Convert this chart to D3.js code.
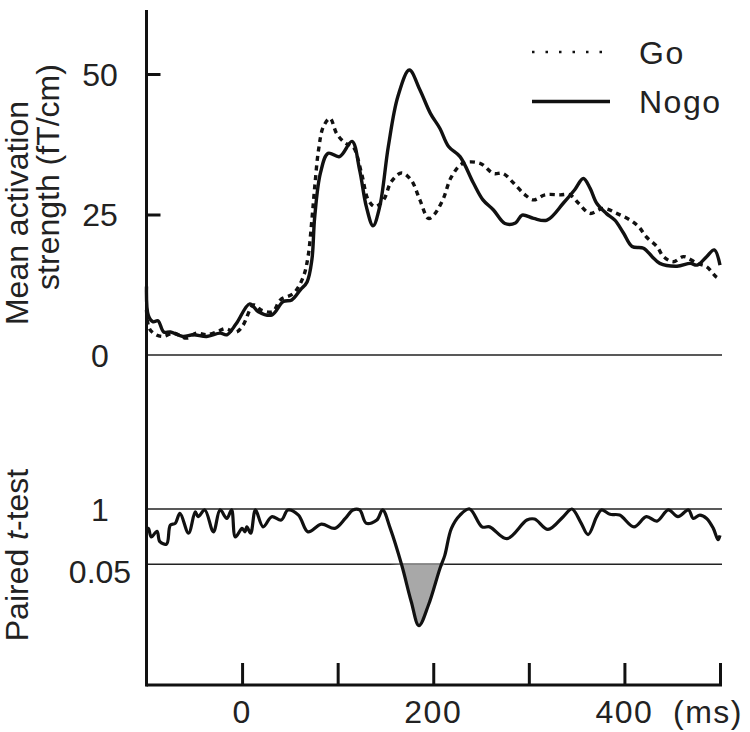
<!DOCTYPE html>
<html lang="en">
<head>
    <meta charset="UTF-8">
    <title>Go / Nogo activation</title>
    <script src="https://d3js.org/d3.v7.min.js"></script>
    <style>
        body { margin: 0; background: #fff; }
        text {
            font-family: "Liberation Sans", Arial, sans-serif;
            fill: #222;
        }
        .lbl { font-size: 32px; }
        .wide { letter-spacing: 1.5px; }
        .ref { stroke: #222; stroke-width: 1.5; }
        .axis path, .axis line { stroke: #111; stroke-width: 3; }
    </style>
</head>
<body>
<div id="chart"></div>
<script>
// time (ms), mean activation strength (fT/cm)
const goData = [
    [-100, 8], [-97, 4.7], [-90, 3.6], [-82, 3.3], [-72, 3.9], [-58, 3], [-48, 3.9],
    [-37, 3.6], [-25, 4.2], [-18, 4.7], [-6, 4.1], [1, 5.3], [12, 8.9], [20, 8],
    [32, 7.7], [40, 9.8], [54, 11], [64, 13.9], [69, 17.5], [73, 24], [76, 29.9],
    [80, 36.5], [85, 40.6], [92, 42.1], [99, 39.4], [108, 37.7], [116, 37.1],
    [125, 32.3], [132, 27.6], [139, 26.4], [148, 27.6], [156, 30.8], [167, 32.4],
    [177, 31.1], [186, 27.6], [195, 24.3], [201, 25], [210, 27.6], [219, 31.7],
    [231, 34.1], [249, 34.1], [263, 32.3], [273, 32.3], [284, 30.6], [296, 28.5],
    [305, 27.6], [317, 28.5], [333, 28.5], [343, 28.5], [352, 27], [364, 25.2],
    [378, 26.1], [392, 25.2], [406, 24], [415, 22.8], [423, 21], [434, 19.3],
    [441, 17.5], [451, 16.6], [462, 17.5], [476, 16.3], [486, 15.7], [496, 13.9],
    [500, 13.5]
];

const nogoData = [
    [-100, 12.2], [-98, 7], [-93, 5.9], [-88, 6.1], [-82, 4.1], [-75, 4.1], [-62, 3.3],
    [-51, 3.6], [-37, 3.3], [-23, 3.9], [-16, 3.6], [-6, 5.6], [8, 9.1], [17, 7.7],
    [31, 7.1], [43, 9.5], [52, 9.8], [61, 11.6], [68, 13], [73, 16.9], [76, 24.6],
    [82, 32.4], [90, 35.9], [102, 35.3], [115, 38], [123, 32.9], [130, 26.4],
    [137, 23], [144, 26.4], [153, 37.1], [163, 46], [175, 50.7], [186, 47.2],
    [197, 43], [207, 40.3], [216, 37.1], [228, 35.3], [242, 30.6], [252, 27.6],
    [263, 25.8], [275, 23.4], [286, 23.5], [293, 24.9], [305, 24.3], [319, 24],
    [336, 27], [348, 29.4], [357, 31.4], [364, 29.7], [371, 27], [381, 25.2],
    [390, 24], [399, 21.7], [408, 19.3], [420, 19], [429, 17.5], [437, 16.3],
    [455, 15.8], [469, 16.3], [476, 16], [486, 17.5], [494, 18.7], [500, 16]
];

// time (ms), p value of paired t-test (log axis)
const pData = [
    [-100, 0.3], [-98, 0.35], [-95, 0.22], [-89, 0.3], [-86, 0.17], [-79, 0.15],
    [-75, 0.42], [-70, 0.46], [-65, 0.79], [-56, 0.27], [-49, 0.86], [-46, 0.66],
    [-39, 0.95], [-30, 0.29], [-23, 0.95], [-16, 0.6], [-11, 0.95], [-7, 0.22],
    [0, 0.35], [3, 0.29], [5, 0.38], [9, 0.27], [14, 0.95], [22, 0.38], [31, 0.66],
    [41, 0.55], [48, 0.95], [59, 0.72], [69, 0.29], [83, 0.44], [97, 0.35],
    [108, 0.6], [116, 0.95], [123, 0.95], [130, 0.46], [141, 0.55], [147, 0.95],
    [155, 0.35], [167, 0.048], [177, 0.0066], [185, 0.0018], [195, 0.0055],
    [207, 0.04], [212, 0.08], [219, 0.35], [228, 0.72], [238, 1], [251, 0.38],
    [259, 0.38], [277, 0.2], [298, 0.55], [306, 0.58], [320, 0.33], [336, 0.66],
    [345, 1], [354, 0.5], [362, 0.25], [371, 0.66], [376, 0.95], [385, 0.75],
    [395, 0.72], [410, 0.38], [423, 0.66], [434, 0.52], [446, 0.95], [456, 0.66],
    [467, 0.95], [472, 0.6], [479, 0.72], [486, 0.6], [493, 0.35], [498, 0.19],
    [500, 0.24]
];

const xTicks = [0, 100, 200, 300, 400, 500];
const xLabels = [0, 200, 400];
const yTicks = [25, 50];
const yLabels = [0, 25, 50];
const pLines = [1, 0.05];
const legendItems = ['Go', 'Nogo'];

const width = 750, height = 732;
const left = 146.5, right = 722, bottom = 685;

const svg = d3.select('#chart')
    .append('svg')
    .attr('width', width)
    .attr('height', height);

const x = d3.scaleLinear().domain([-100, 500]).range([left, 720]);
const y = d3.scaleLinear().domain([0, 50]).range([355, 74]);
const yp = d3.scaleLog().domain([1, 0.05]).range([509, 564.3]);

// reference lines
svg.append('line').attr('class', 'ref')
    .attr('x1', left).attr('x2', right)
    .attr('y1', y(0)).attr('y2', y(0));

svg.selectAll('.pline')
    .data(pLines)
    .enter().append('line')
    .attr('class', 'ref pline')
    .attr('x1', left).attr('x2', right)
    .attr('y1', d => yp(d)).attr('y2', d => yp(d));

// shaded significant region
const sig = d3.area()
    .x(d => x(d[0]))
    .y0(yp(0.05))
    .y1(d => yp(Math.min(d[1], 0.05)));

svg.append('path')
    .datum(pData)
    .attr('d', sig)
    .attr('fill', '#a8a8a8');

// curves
const line = d3.line()
    .x(d => x(d[0]))
    .y(d => y(d[1]))
    .curve(d3.curveCatmullRom.alpha(0.5));

svg.append('path')
    .datum(goData)
    .attr('d', line)
    .attr('fill', 'none')
    .attr('stroke', '#111')
    .attr('stroke-width', 3.4)
    .attr('stroke-dasharray', '5,4.5');

svg.append('path')
    .datum(nogoData)
    .attr('d', line)
    .attr('fill', 'none')
    .attr('stroke', '#111')
    .attr('stroke-width', 3.4)
    .attr('stroke-linejoin', 'round');

const pLine = d3.line()
    .x(d => x(d[0]))
    .y(d => yp(d[1]))
    .curve(d3.curveCatmullRom.alpha(0.5));

svg.append('path')
    .datum(pData)
    .attr('d', pLine)
    .attr('fill', 'none')
    .attr('stroke', '#111')
    .attr('stroke-width', 3.2)
    .attr('stroke-linejoin', 'round');

// axes
svg.append('line')
    .attr('x1', left).attr('x2', left)
    .attr('y1', 10).attr('y2', bottom + 1.5)
    .attr('stroke', '#111').attr('stroke-width', 3);

svg.append('g')
    .attr('class', 'axis')
    .attr('transform', `translate(0,${bottom})`)
    .call(d3.axisTop(x).tickValues(xTicks).tickSize(22).tickSizeOuter(0).tickFormat(''));

svg.select('.axis path').attr('d', `M${left},0H${right}`);

svg.append('g')
    .attr('class', 'axis')
    .attr('transform', `translate(${left},0)`)
    .call(d3.axisRight(y).tickValues(yTicks).tickSize(14).tickFormat(''))
    .select('path').remove();

// tick labels
svg.selectAll('.ylab')
    .data(yLabels)
    .enter().append('text')
    .attr('class', 'lbl ylab')
    .attr('x', 100)
    .attr('y', d => y(d))
    .attr('dy', '0.36em')
    .attr('text-anchor', 'middle')
    .text(d => d);

svg.selectAll('.plab')
    .data(pLines)
    .enter().append('text')
    .attr('class', 'lbl plab')
    .attr('x', 100)
    .attr('y', (d, i) => yp(d) + (i ? 7 : 0))
    .attr('dy', '0.36em')
    .attr('text-anchor', 'middle')
    .text(d => d);

const xl = svg.selectAll('.xlab')
    .data(xLabels)
    .enter().append('text')
    .attr('class', 'lbl wide xlab')
    .attr('x', d => x(d))
    .attr('y', 723)
    .attr('text-anchor', 'middle')
    .text(d => d);

// unit after the last label
svg.append('text')
    .attr('class', 'lbl wide')
    .attr('x', 743)
    .attr('y', 723)
    .attr('text-anchor', 'end')
    .text('(ms)');

// axis titles
svg.append('text')
    .attr('class', 'lbl')
    .attr('transform', 'translate(28,213) rotate(-90)')
    .attr('text-anchor', 'middle')
    .text('Mean activation');

svg.append('text')
    .attr('class', 'lbl')
    .attr('transform', 'translate(59,177) rotate(-90)')
    .attr('text-anchor', 'middle')
    .text('strength (fT/cm)');

const pt = svg.append('text')
    .attr('class', 'lbl')
    .attr('transform', 'translate(28,555) rotate(-90)')
    .attr('text-anchor', 'middle');
pt.append('tspan').text('Paired ');
pt.append('tspan').attr('font-style', 'italic').text('t');
pt.append('tspan').text('-test');

// legend
const legend = svg.append('g')
    .selectAll('g')
    .data(legendItems)
    .enter().append('g')
    .attr('transform', (d, i) => `translate(532,${52 + i * 49.5})`);

legend.append('line')
    .attr('x1', 0)
    .attr('x2', (d, i) => i ? 78 : 72)
    .attr('stroke', '#111')
    .attr('stroke-width', (d, i) => i ? 3.4 : 2.5)
    .attr('stroke-dasharray', (d, i) => i ? null : '2.5,11');

legend.append('text')
    .attr('class', 'lbl wide')
    .attr('x', 107)
    .attr('dy', '0.36em')
    .text(d => d);
</script>
</body>
</html>
